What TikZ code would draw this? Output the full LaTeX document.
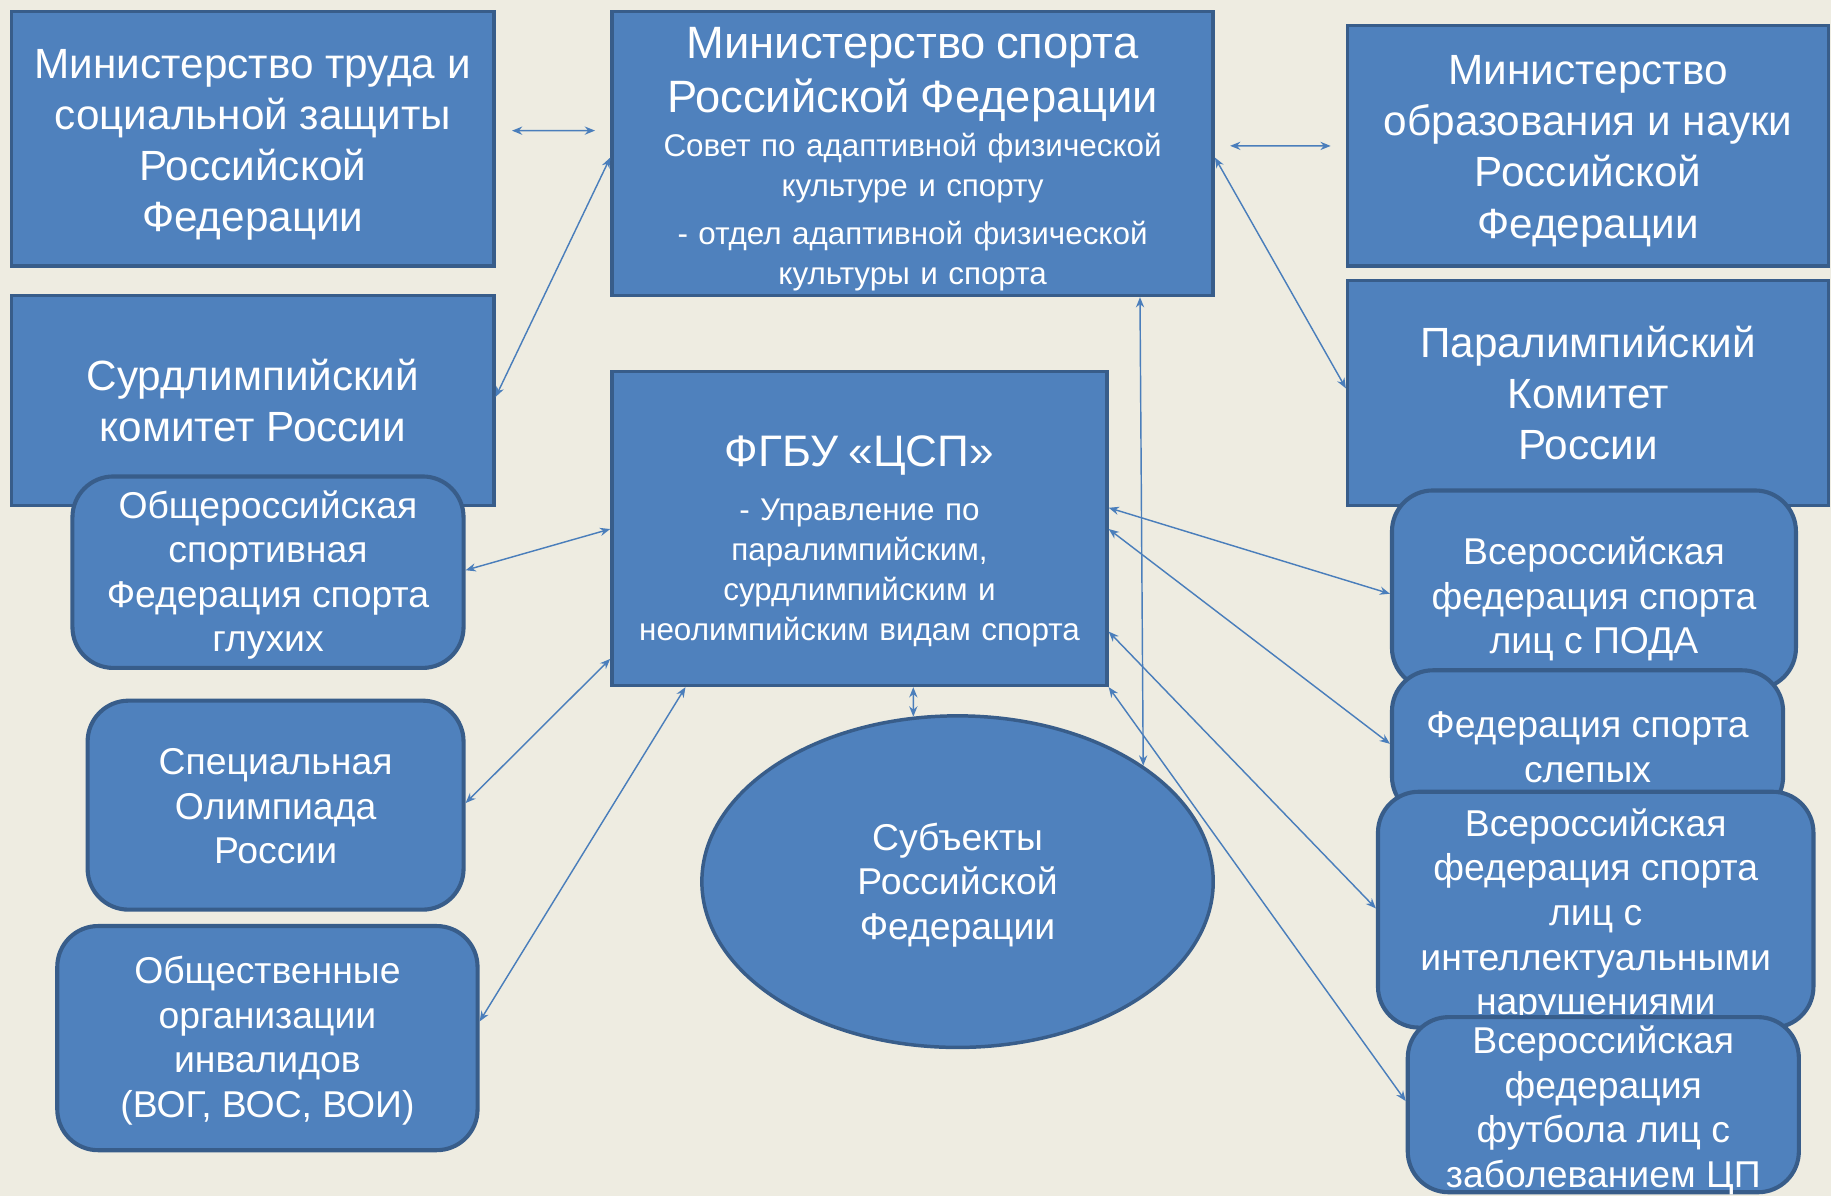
\documentclass[tikz,border=0pt]{standalone}
\usepackage{fontspec}
\setmainfont{Liberation Sans}
\usetikzlibrary{arrows.meta, calc, shapes.geometric}

\definecolor{fondo}{HTML}{EEECE1}
\definecolor{relleno}{HTML}{4F81BD}
\definecolor{borde}{HTML}{385D8A}
\definecolor{linea}{HTML}{4A7EBB}

\begin{document}
\begin{tikzpicture}[x=0.02cm, y=-0.02cm,
    caja/.style={draw=borde, fill=relleno, line width=1.7pt, inner sep=0pt},
    cajar/.style={caja, rounded corners=0.7cm, line width=2pt},
    texto/.style={text=white, align=center, inner sep=0pt},
    grande/.style={font=\fontsize{20.6}{24.9}\selectfont},
    media/.style={font=\fontsize{18.2}{21.7}\selectfont},
    chica/.style={font=\fontsize{15.3}{19.5}\selectfont},
    flecha/.style={linea, line width=0.7pt, >={Stealth[length=5pt,width=4pt]}, <->}]
    % Fondo
    \fill[fondo] (0,0) rectangle (1568,1024);
    \useasboundingbox (0,0) rectangle (1568,1024);
    % Ministerios
    \node[caja, minimum width=8.26cm, minimum height=4.36cm] (mintrud) at (216.5,119) {};
    \node[texto, grande] (mintrud-t) at (216.5,124)
        {Министерство труда и\\социальной защиты\\Российской\\Федерации};
    \node[caja, minimum width=10.3cm, minimum height=4.86cm] (minsport) at (781.5,131.5) {};
    \node[texto, chica, text width=10cm] (minsport-t) at (781.5,136.5)
        {{\fontsize{22.1}{26}\selectfont Министерство спорта\\Российской Федерации\par}\vspace{2pt}
         Совет по адаптивной физической\\культуре и спорту\par\vspace{4pt}
         - отдел адаптивной физической\\культуры и спорта};
    \node[caja, minimum width=8.24cm, minimum height=4.12cm] (minobr) at (1360,125) {};
    \node[texto, grande] (minobr-t) at (1360,129.5)
        {Министерство\\образования и науки\\Российской\\Федерации};
    % Comites
    \node[caja, minimum width=8.26cm, minimum height=3.6cm] (surd) at (216.5,343) {};
    \node[texto, grande] (surd-t) at (216.5,343) {Сурдлимпийский\\комитет России};
    \node[caja, minimum width=8.24cm, minimum height=3.86cm] (paral) at (1360,336.5) {};
    \node[texto, grande] (paral-t) at (1360,336.5) {Паралимпийский\\Комитет\\России};
    % Centro
    \node[caja, minimum width=8.48cm, minimum height=5.38cm] (fgbu) at (736,452.5) {};
    \node[texto, chica, text width=8.2cm] (fgbu-t) at (736,463.5)
        {{\fontsize{21.5}{26}\selectfont ФГБУ «ЦСП»\par}\vspace{7pt}
         - Управление по\\паралимпийским,\\сурдлимпийским и\\неолимпийским видам спорта};
    \node[caja, ellipse, minimum width=8.76cm, minimum height=5.68cm] (subj) at (820,755) {};
    \node[texto, media] (subj-t) at (820,758) {Субъекты\\Российской\\Федерации};
    % Federaciones (izquierda)
    \node[cajar, minimum width=6.7cm, minimum height=3.28cm] (gluh) at (229.5,490) {};
    \node[texto, media] (gluh-t) at (229.5,492.5)
        {Общероссийская\\спортивная\\Федерация спорта\\глухих};
    \node[cajar, minimum width=6.44cm, minimum height=3.58cm] (specol) at (236,689.5) {};
    \node[texto, media] (specol-t) at (236,690.5) {Специальная\\Олимпиада\\России};
    \node[cajar, minimum width=7.2cm, minimum height=3.84cm] (obsch) at (229,889) {};
    \node[texto, media] (obsch-t) at (229,891)
        {Общественные\\организации\\инвалидов\\(ВОГ, ВОС, ВОИ)};
    % Federaciones (derecha)
    \node[cajar, minimum width=6.92cm, minimum height=3.4cm] (poda) at (1365,505) {};
    \node[texto, media] (poda-t) at (1365,513) {Всероссийская\\федерация спорта\\лиц с ПОДА};
    \node[cajar, minimum width=6.7cm, minimum height=2.52cm] (slep) at (1359.5,637) {};
    \node[texto, media] (slep-t) at (1359.5,640) {Федерация спорта\\слепых};
    \node[cajar, minimum width=7.46cm, minimum height=4.04cm] (intel) at (1366.5,779) {};
    \node[texto, media] (intel-t) at (1366.5,784)
        {Всероссийская\\федерация спорта\\лиц с\\интеллектуальными\\нарушениями};
    \node[cajar, minimum width=6.7cm, minimum height=3.0cm] (futb) at (1373,946) {};
    \node[texto, media] (futb-t) at (1373,951)
        {Всероссийская\\федерация\\футбола лиц с\\заболеванием ЦП};
    % Flechas entre ministerios
    \draw[flecha, shorten <=0.28cm, shorten >=0.26cm]
        ($(mintrud.north east)!0.468!(mintrud.south east)$) -- ($(minsport.north west)!0.42!(minsport.south west)$);
    \draw[flecha, shorten <=0.26cm, shorten >=0.26cm]
        ($(minsport.north east)!0.473!(minsport.south east)$) -- ($(minobr.north west)!0.5!(minobr.south west)$);
    \draw[flecha] ($(surd.north east)!0.483!(surd.south east)$) -- ($(minsport.north west)!0.514!(minsport.south west)$);
    \draw[flecha] ($(minsport.north east)!0.514!(minsport.south east)$) -- ($(paral.north west)!0.48!(paral.south west)$);
    \draw[flecha] ($(minsport.south west)!0.876!(minsport.south east)$) -- (subj.32.8);
    % Flechas del FGBU
    \draw[flecha] ($(fgbu.south west)!0.608!(fgbu.south east)$) -- (subj.105.2);
    \foreach \a/\b/\c in {0.502/gluh/0.49, 0.911/specol/0.49}
        \draw[flecha] ($(fgbu.north west)!\a!(fgbu.south west)$) -- ($(\b.north east)!\c!(\b.south east)$);
    \draw[flecha] ($(fgbu.south west)!0.151!(fgbu.south east)$) -- ($(obsch.north east)!0.427!(obsch.south east)$);
    \foreach \a/\b/\c in {0.435/poda/0.52, 0.502/slep/0.5, 0.825/intel/0.495, 1/futb/0.48}
        \draw[flecha] ($(fgbu.north east)!\a!(fgbu.south east)$) -- ($(\b.north west)!\c!(\b.south west)$);
\end{tikzpicture}
\end{document}
